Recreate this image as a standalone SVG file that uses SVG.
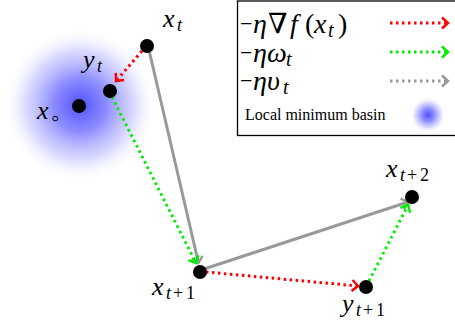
<svg xmlns="http://www.w3.org/2000/svg" width="455" height="328" viewBox="0 0 455 328">
<defs>
<radialGradient id="basin" cx="0.5" cy="0.5" r="0.5">
<stop offset="0" stop-color="#5050ff" stop-opacity="1"/>
<stop offset="0.35" stop-color="#7070ff" stop-opacity="0.8"/>
<stop offset="0.7" stop-color="#a0a0ff" stop-opacity="0.4"/>
<stop offset="1" stop-color="#ffffff" stop-opacity="0"/>
</radialGradient>
<marker id="ar" markerUnits="userSpaceOnUse" markerWidth="14" markerHeight="14" refX="0" refY="0" viewBox="-8 -7 10 14" orient="auto" overflow="visible"><path d="M-6,-5.5 L0,0 L-6,5.5" fill="none" stroke="#ff0000" stroke-width="2.5"/></marker>
<marker id="ag" markerUnits="userSpaceOnUse" markerWidth="14" markerHeight="14" refX="0" refY="0" viewBox="-8 -7 10 14" orient="auto" overflow="visible"><path d="M-6,-5.5 L0,0 L-6,5.5" fill="none" stroke="#00ee00" stroke-width="2.5"/></marker>
<marker id="ay" markerUnits="userSpaceOnUse" markerWidth="14" markerHeight="14" refX="0" refY="0" viewBox="-8 -7 10 14" orient="auto" overflow="visible"><path d="M-6,-5.5 L0,0 L-6,5.5" fill="none" stroke="#999999" stroke-width="2.5"/></marker>
</defs>
<style>
.m{font-family:"Liberation Serif","DejaVu Serif",serif;font-size:26px;fill:#000}
.L{font-size:28px}
.mn{font-size:22px}
.i{font-style:italic}
.s{font-size:18px}
.ls{font-size:20px}
.red{stroke:#ff0000;stroke-width:3;stroke-dasharray:2.5 3.5;fill:none}
.grn{stroke:#00ee00;stroke-width:3;stroke-dasharray:2.5 3.5;fill:none}
.gry{stroke:#999999;stroke-width:3;fill:none}
.gryd{stroke:#999999;stroke-width:3;stroke-dasharray:2.5 3.5;fill:none}
.pt{fill:#000}
</style>
<circle id="basin-area" cx="80" cy="105" r="77" fill="url(#basin)"/>
<g id="connectors">
<line class="gry" x1="149" y1="50" x2="198.5" y2="263" marker-end="url(#ay)"/>
<line class="gry" x1="204" y1="269" x2="408" y2="202" marker-end="url(#ay)"/>
<line class="red" x1="142" y1="51" x2="116" y2="81" marker-end="url(#ar)"/>
<line class="red" x1="206" y1="272" x2="358" y2="286" marker-end="url(#ar)"/>
<line class="grn" x1="112" y1="97" x2="196" y2="263" marker-end="url(#ag)"/>
<line class="grn" x1="369" y1="281" x2="408" y2="205" marker-end="url(#ag)"/>
</g>
<g id="xo"><circle class="pt" cx="79" cy="106" r="7"/><text class="m" x="37" y="119"><tspan class="i">x</tspan><tspan x="51" y="126" style="font-size:24px">◦</tspan></text></g>
<g id="xt"><circle class="pt" cx="147" cy="46" r="7"/><text class="m" x="163" y="27"><tspan class="i">x</tspan><tspan class="s i" x="177" y="31">t</tspan></text></g>
<g id="yt"><circle class="pt" cx="110" cy="91" r="7"/><text class="m" x="83" y="68"><tspan class="i">y</tspan><tspan class="s i" x="97" y="72">t</tspan></text></g>
<g id="xt1"><circle class="pt" cx="200" cy="272" r="7"/><text class="m" x="152" y="295"><tspan class="i">x</tspan><tspan class="s i" x="166" y="299">t</tspan><tspan class="s" x="173" y="299">+</tspan><tspan class="s" x="186" y="299">1</tspan></text></g>
<g id="yt1"><circle class="pt" cx="366" cy="287" r="7"/><text class="m" x="342" y="312"><tspan class="i">y</tspan><tspan class="s i" x="356" y="316">t</tspan><tspan class="s" x="363" y="316">+</tspan><tspan class="s" x="376" y="316">1</tspan></text></g>
<g id="xt2"><circle class="pt" cx="412" cy="197" r="7"/><text class="m" x="386" y="177"><tspan class="i">x</tspan><tspan class="s i" x="400" y="181">t</tspan><tspan class="s" x="407" y="181">+</tspan><tspan class="s" x="420" y="181">2</tspan></text></g>
<g id="legend">
<rect x="237.5" y="1" width="230" height="134.5" fill="#fff" stroke="#000" stroke-width="1.3"/>
<text class="m L" x="240" y="33"><tspan class="mn" y="31">−</tspan><tspan class="i" x="253" y="33">η</tspan><tspan x="268">∇</tspan><tspan class="i" x="290">f</tspan><tspan x="305">(</tspan><tspan class="i" x="314">x</tspan><tspan class="ls i" x="328" y="37">t</tspan><tspan x="338" y="33">)</tspan></text>
<text class="m L" x="240" y="62"><tspan class="mn" y="60">−</tspan><tspan class="i" x="253" y="62">η</tspan><tspan class="i" x="267">ω</tspan><tspan class="ls i" x="286" y="66">t</tspan></text>
<text class="m L" x="240" y="90"><tspan class="mn" y="88">−</tspan><tspan class="i" x="253" y="90">η</tspan><tspan class="i" x="267">υ</tspan><tspan class="ls i" x="283" y="94">t</tspan></text>
<text x="245" y="120" style="font-family:'Liberation Serif',serif;font-size:16px">Local minimum basin</text>
<line class="red" x1="390" y1="23" x2="448" y2="23" marker-end="url(#ar)"/>
<line class="grn" x1="390" y1="52" x2="448" y2="52" marker-end="url(#ag)"/>
<line class="gryd" x1="390" y1="81" x2="448" y2="81" marker-end="url(#ay)"/>
<circle cx="428" cy="115" r="18" fill="url(#basin)"/>
</g>
</svg>
